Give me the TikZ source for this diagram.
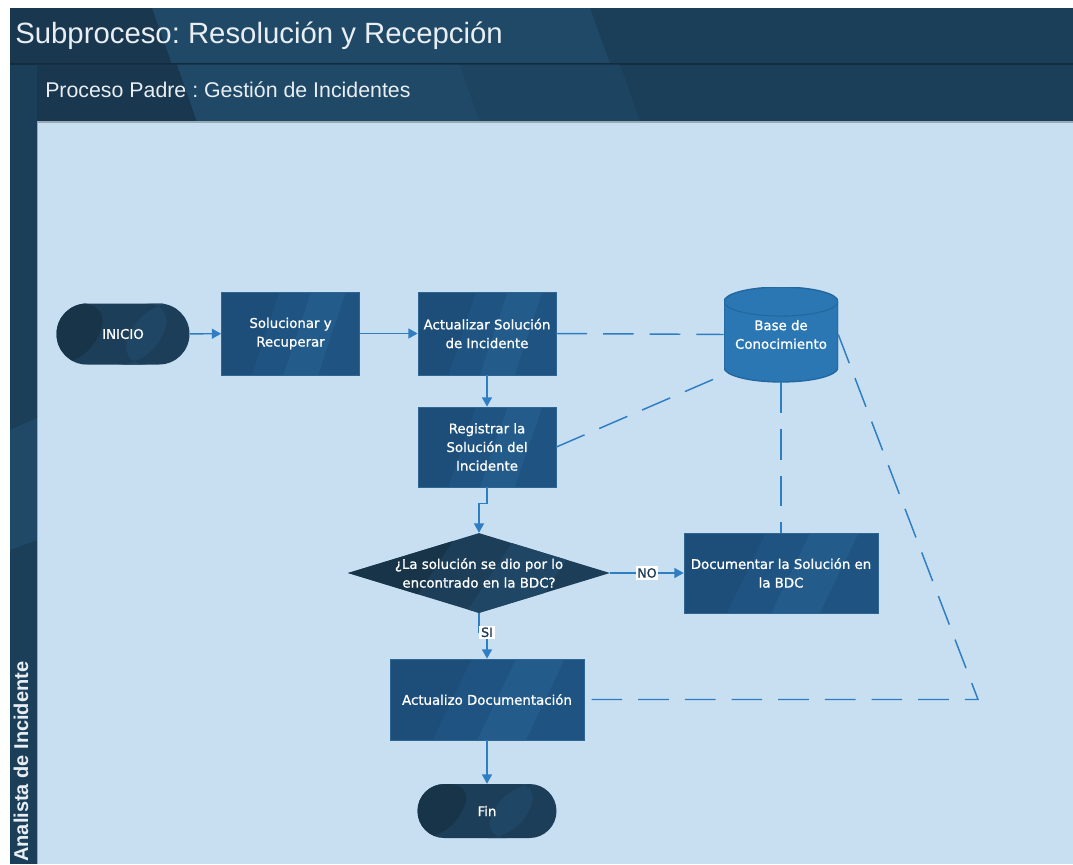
\documentclass[tikz,border=0pt]{standalone}
\usepackage{fontspec}
\setmainfont{Liberation Sans}
\newfontfamily\nodefont[FakeBold=1]{DejaVu Sans}
\frenchspacing
\usetikzlibrary{arrows.meta,calc,shapes.geometric}

\definecolor{banddark}{HTML}{1C3F59}
\definecolor{banddeep}{HTML}{19374F}
\definecolor{bandlight}{HTML}{1F4966}
\definecolor{bandmid}{HTML}{1D4460}
\definecolor{lanebg}{HTML}{C8DFF2}
\definecolor{boxc}{HTML}{1F5482}
\definecolor{boxlight}{HTML}{235C8B}
\definecolor{boxdark}{HTML}{1D4E79}
\definecolor{boxedge}{HTML}{2F6591}
\definecolor{termc}{HTML}{1C3E59}
\definecolor{termdark}{HTML}{173449}
\definecolor{termlight}{HTML}{1F4664}
\definecolor{kbc}{HTML}{2A77B4}
\definecolor{kbrim}{HTML}{22679E}
\definecolor{linec}{HTML}{2F7DC2}
\definecolor{headtext}{HTML}{E8EEF3}
\definecolor{lbltext}{HTML}{1C3A50}

\tikzset{
  % two diagonal tone bands clipped inside a node
  stripes/.style n args={2}{path picture={
    \coordinate (pp-sw) at (path picture bounding box.south west);
    \coordinate (pp-ne) at (path picture bounding box.north east);
    \fill[#1] (pp-sw) -- ($(pp-sw)!0.22!(pp-sw-|pp-ne)$) -- ($(pp-sw|-pp-ne)!0.42!(pp-ne)$) -- (pp-sw|-pp-ne) -- cycle;
    \fill[#2] ($(pp-sw)!0.45!(pp-sw-|pp-ne)$) -- ($(pp-sw)!0.70!(pp-sw-|pp-ne)$) -- ($(pp-sw|-pp-ne)!0.90!(pp-ne)$) -- ($(pp-sw|-pp-ne)!0.65!(pp-ne)$) -- cycle;
  }},
  nodetext/.style={text=white, font=\nodefont\fontsize{10}{14}\selectfont, align=center},
  proc/.style={rectangle, fill=boxc, draw=boxedge, line width=0.5pt, inner sep=0pt,
    nodetext, stripes={boxdark}{boxlight}},
  term/.style={rectangle, fill=termc, draw=none, inner sep=0pt,
    nodetext, stripes={termdark}{termlight}},
  decision/.style={diamond, fill=termc, draw=none, inner sep=0pt,
    stripes={termdark}{termlight}},
  store/.style={rectangle, draw=none, inner sep=0pt, nodetext,
    path picture={
      \coordinate (pp-sw) at (path picture bounding box.south west);
      \coordinate (pp-ne) at (path picture bounding box.north east);
      \fill[kbc, draw=kbrim, line width=1pt] ($(pp-sw|-pp-ne)+(0,-10.9pt)$) -- ($(pp-sw)+(0,10.9pt)$)
        arc[start angle=180, end angle=360, x radius=42.75pt, y radius=10.9pt]
        -- ($(pp-ne)+(0,-10.9pt)$)
        arc[start angle=0, end angle=180, x radius=42.75pt, y radius=10.9pt] -- cycle;
      \draw[kbrim, line width=0.8pt] ($(pp-sw|-pp-ne)+(0,-10.9pt)$)
        arc[start angle=180, end angle=360, x radius=42.75pt, y radius=10.9pt];
    }},
  flow/.style={draw=linec, line width=1.1pt, -{Triangle[length=7pt,width=7.5pt]}},
  kblink/.style={draw=linec, line width=1.1pt, dash pattern=on 23pt off 12pt},
  lbl/.style={fill=white, text=lbltext, font=\nodefont\fontsize{9.5}{11}\selectfont, inner sep=1.3pt},
}

\begin{document}
\begin{tikzpicture}[x=0.75pt, y=-0.75pt]
\useasboundingbox (0,0) rectangle (1073,864);
\fill[white] (0,0) rectangle (1073,864);

% title band
\fill[banddark] (10,8) rectangle (1073,64);
\fill[banddeep] (10,8) -- (152,8) -- (172,64) -- (10,64) -- cycle;
\fill[bandlight] (152,8) -- (590,8) -- (610,64) -- (172,64) -- cycle;
\draw[banddeep!80!black, line width=0.8pt] (10,64) -- (1073,64);

% sub-header band
\fill[banddark] (10,64.5) rectangle (1073,122);
\fill[banddeep] (37,64.5) -- (177,64.5) -- (197,122) -- (37,122) -- cycle;
\fill[bandlight] (177,64.5) -- (460,64.5) -- (480,122) -- (197,122) -- cycle;
\fill[bandmid] (460,64.5) -- (620,64.5) -- (640,122) -- (480,122) -- cycle;

% lane header strip
\fill[banddark] (10,64.5) rectangle (37,864);
\fill[bandlight] (10,430) -- (37,418) -- (37,540) -- (10,550) -- cycle;

% lane body
\fill[lanebg] (37,122) rectangle (1073,864);
\draw[white!55!banddark, line width=0.8pt] (37,122) -- (1073,122);
\draw[white!55!banddark, line width=0.6pt] (37,122) -- (37,864);

% headings
\node[anchor=base west, text=headtext, font=\fontsize{22}{26}\selectfont, inner sep=0pt] (title) at (15,43) {Subproceso: Resolución y Recepción};
\node[anchor=base west, text=headtext, font=\fontsize{16}{19}\selectfont, inner sep=0pt] (parent) at (45,97) {Proceso Padre : Gestión de Incidentes};
\node[rotate=90, anchor=base west, text=headtext, font=\bfseries\fontsize{15}{18}\selectfont, inner sep=0pt] (lane) at (28,862) {Analista de Incidente};

% flow nodes
\node[term, minimum width=99.75pt, minimum height=45.75pt, rounded corners=22.8pt] (ini) at (123,334) {INICIO};
\node[proc, minimum width=103.5pt, minimum height=62.25pt] (sol) at (290.5,333.5) {Solucionar y\\Recuperar};
\node[proc, minimum width=103.5pt, minimum height=62.25pt] (act) at (487,333.5) {Actualizar Solución\\de Incidente};
\node[proc, minimum width=103.5pt, minimum height=60pt] (reg) at (487,447) {Registrar la\\Solución del\\Incidente};
\node[decision, minimum width=196.5pt, minimum height=60pt] (dia) at (479,573) {};
\node[nodetext] (diatext) at (dia) {¿La solución se dio por lo\\encontrado en la BDC?};
\node[proc, minimum width=145.5pt, minimum height=60pt] (doc) at (781,573) {Documentar la Solución en\\la BDC};
\node[proc, minimum width=145.5pt, minimum height=60.75pt] (upd) at (487,699.5) {Actualizo Documentación};
\node[term, minimum width=104.25pt, minimum height=40.5pt, rounded corners=20.2pt] (fin) at (487,811) {Fin};
\node[store, minimum width=85.5pt, minimum height=71.25pt] (kb) at (781,334.5) {Base de\\Conocimiento};
\coordinate (turn) at (978,699.5);

% sequence flow
\draw[flow] (ini) -- (sol);
\draw[flow] (sol) -- (act);
\draw[flow] (act) -- (reg);
\draw[flow] (reg.south) -- ++(0,16) -| (dia.north);
\draw[flow] (dia.east) -- node[lbl] (no) {NO} (doc.west);
\draw[flow] (dia.south) -- ++(0,19) -| node[lbl] (si) {SI} (upd.north);
\draw[flow] (upd) -- (fin);

% associations with the knowledge base
\draw[kblink] (act.east) -- (kb.west);
\draw[kblink] (reg.east) -- ([xshift=-6pt,yshift=3pt]kb.south west);
\draw[kblink] (kb.south) -- (doc.north);
\draw[kblink] (kb.east) -- (turn) -- (upd.east);
\end{tikzpicture}
\end{document}
